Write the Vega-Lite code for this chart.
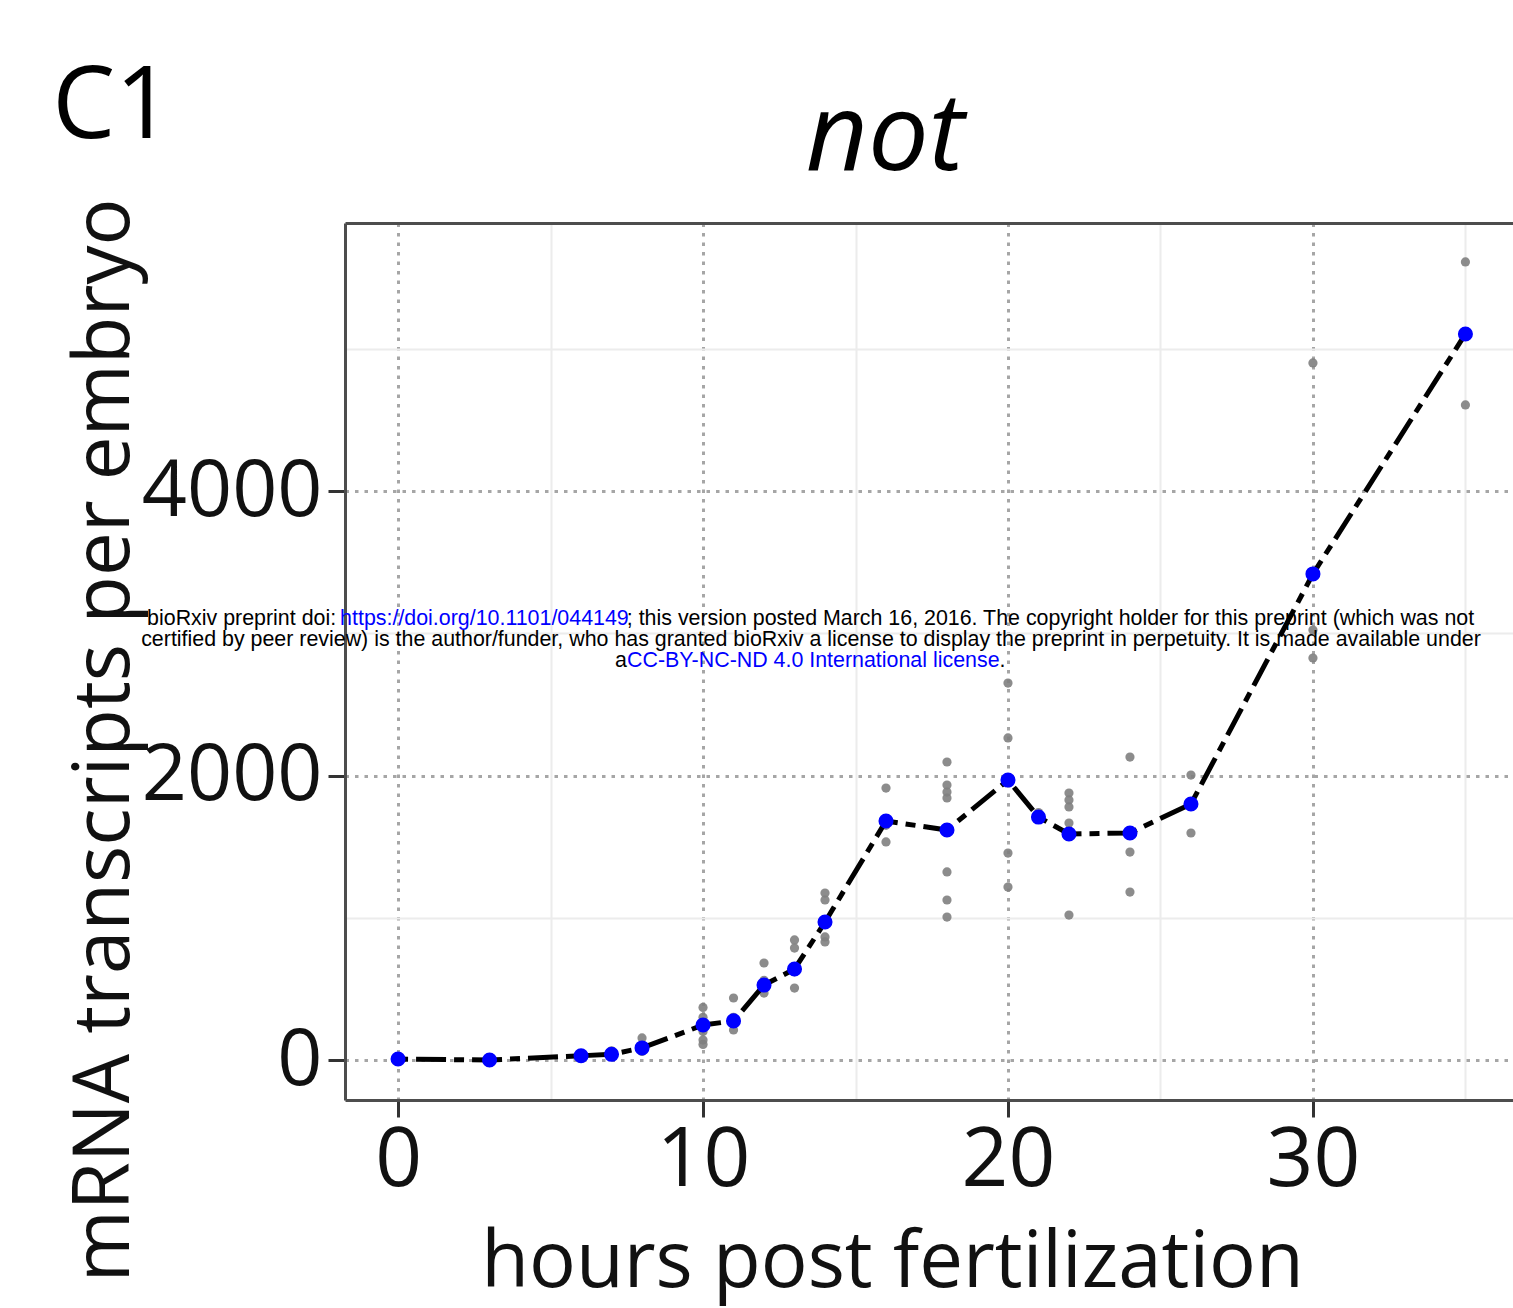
{
  "$schema": "https://vega.github.io/schema/vega-lite/v6.json",
  "width": 1168,
  "height": 877,
  "autosize": {"type": "none"},
  "padding": {"left": 345, "top": 223, "right": 0, "bottom": 208},
  "background": "white",
  "config": {"view": {"stroke": null}, "font": "Open Sans"},
  "datasets": {
    "reps": [
      {"hours": 0, "transcripts": 0}, {"hours": 0, "transcripts": 12},
      {"hours": 3, "transcripts": 0}, {"hours": 3, "transcripts": 8},
      {"hours": 6, "transcripts": 18}, {"hours": 6, "transcripts": 42},
      {"hours": 7, "transcripts": 30}, {"hours": 7, "transcripts": 65},
      {"hours": 8, "transcripts": 60}, {"hours": 8, "transcripts": 100}, {"hours": 8, "transcripts": 155},
      {"hours": 10, "transcripts": 370}, {"hours": 10, "transcripts": 300}, {"hours": 10, "transcripts": 200}, {"hours": 10, "transcripts": 140}, {"hours": 10, "transcripts": 110},
      {"hours": 11, "transcripts": 436}, {"hours": 11, "transcripts": 300}, {"hours": 11, "transcripts": 211},
      {"hours": 12, "transcripts": 682}, {"hours": 12, "transcripts": 560}, {"hours": 12, "transcripts": 471},
      {"hours": 13, "transcripts": 844}, {"hours": 13, "transcripts": 787}, {"hours": 13, "transcripts": 620}, {"hours": 13, "transcripts": 506},
      {"hours": 14, "transcripts": 1174}, {"hours": 14, "transcripts": 1125}, {"hours": 14, "transcripts": 980}, {"hours": 14, "transcripts": 865}, {"hours": 14, "transcripts": 830},
      {"hours": 16, "transcripts": 1912}, {"hours": 16, "transcripts": 1650}, {"hours": 16, "transcripts": 1533},
      {"hours": 18, "transcripts": 2095}, {"hours": 18, "transcripts": 1933}, {"hours": 18, "transcripts": 1884}, {"hours": 18, "transcripts": 1842}, {"hours": 18, "transcripts": 1617}, {"hours": 18, "transcripts": 1322}, {"hours": 18, "transcripts": 1125}, {"hours": 18, "transcripts": 1005},
      {"hours": 20, "transcripts": 2650}, {"hours": 20, "transcripts": 2264}, {"hours": 20, "transcripts": 1970}, {"hours": 20, "transcripts": 1455}, {"hours": 20, "transcripts": 1216},
      {"hours": 21, "transcripts": 1708}, {"hours": 21, "transcripts": 1740},
      {"hours": 22, "transcripts": 1877}, {"hours": 22, "transcripts": 1828}, {"hours": 22, "transcripts": 1779}, {"hours": 22, "transcripts": 1666}, {"hours": 22, "transcripts": 1019},
      {"hours": 24, "transcripts": 2130}, {"hours": 24, "transcripts": 1600}, {"hours": 24, "transcripts": 1462}, {"hours": 24, "transcripts": 1181},
      {"hours": 26, "transcripts": 2003}, {"hours": 26, "transcripts": 1596},
      {"hours": 30, "transcripts": 4900}, {"hours": 30, "transcripts": 3023}, {"hours": 30, "transcripts": 2826},
      {"hours": 35, "transcripts": 5610}, {"hours": 35, "transcripts": 4605}
    ],
    "means": [
      {"hours": 0, "transcripts": 7}, {"hours": 3, "transcripts": 0}, {"hours": 6, "transcripts": 30},
      {"hours": 7, "transcripts": 40}, {"hours": 8, "transcripts": 85}, {"hours": 10, "transcripts": 246},
      {"hours": 11, "transcripts": 275}, {"hours": 12, "transcripts": 527}, {"hours": 13, "transcripts": 640},
      {"hours": 14, "transcripts": 970}, {"hours": 16, "transcripts": 1680}, {"hours": 18, "transcripts": 1617},
      {"hours": 20, "transcripts": 1968}, {"hours": 21, "transcripts": 1708}, {"hours": 22, "transcripts": 1589},
      {"hours": 24, "transcripts": 1596}, {"hours": 26, "transcripts": 1800}, {"hours": 30, "transcripts": 3417},
      {"hours": 35, "transcripts": 5104}
    ]
  },
  "layer": [
    {
      "data": {"name": "reps"},
      "mark": {"type": "circle", "size": 85, "color": "#7f7f7f", "opacity": 0.9},
      "encoding": {
        "x": {"field": "hours", "type": "quantitative",
          "scale": {"domain": [-1.74, 36.56], "nice": false, "zero": false},
          "axis": {"orient": "bottom", "values": [5, 15, 25, 35], "grid": true, "gridColor": "#ececec", "gridWidth": 2, "labels": false, "ticks": false, "domain": false, "title": null}},
        "y": {"field": "transcripts", "type": "quantitative",
          "scale": {"domain": [-281, 5884], "nice": false, "zero": false},
          "axis": {"orient": "left", "values": [1000, 3000, 5000], "grid": true, "gridColor": "#ececec", "gridWidth": 2, "labels": false, "ticks": false, "domain": false, "title": null}}
      }
    },
    {
      "data": {"name": "means"},
      "mark": {"type": "line", "color": "#000000", "strokeWidth": 5, "strokeDash": [10, 8, 30, 8]},
      "encoding": {
        "x": {"field": "hours", "type": "quantitative",
          "axis": {"orient": "bottom", "values": [0, 10, 20, 30], "format": "d", "grid": true, "gridColor": "#a6a6a6", "gridDash": [3.5, 6], "gridWidth": 3,
            "domain": true, "domainColor": "#4d4d4d", "domainWidth": 3,
            "ticks": true, "tickColor": "#333333", "tickWidth": 3, "tickSize": 17,
            "labelFont": "Open Sans", "labelFontSize": 82, "labelColor": "#111111", "labelBaseline": "alphabetic", "labelPadding": 68, "labelFlush": false, "labelOverlap": false, "labelLimit": 0,
            "title": "hours post fertilization", "titleFont": "Open Sans", "titleFontSize": 78, "titleFontWeight": "normal", "titleColor": "#111111", "titleLimit": 0,
            "titleX": 547, "titleY": 186, "titleAlign": "center", "titleBaseline": "alphabetic"}},
        "y": {"field": "transcripts", "type": "quantitative",
          "axis": {"orient": "left", "values": [0, 2000, 4000], "format": "d", "grid": true, "gridColor": "#a6a6a6", "gridDash": [3.5, 6], "gridWidth": 3,
            "domain": true, "domainColor": "#4d4d4d", "domainWidth": 3,
            "ticks": true, "tickColor": "#333333", "tickWidth": 3, "tickSize": 17,
            "labelFont": "Open Sans", "labelFontSize": 79, "labelColor": "#111111", "labelBaseline": "middle", "labelPadding": 6, "labelFlush": false, "labelOverlap": false, "labelLimit": 0,
            "title": "mRNA transcripts per embryo", "titleFont": "Open Sans", "titleFontSize": 78, "titleFontWeight": "normal", "titleColor": "#111111", "titleLimit": 0,
            "titleAngle": 270, "titleX": -217, "titleY": 517, "titleAlign": "center", "titleBaseline": "alphabetic"}}
      }
    },
    {
      "data": {"name": "means"},
      "mark": {"type": "circle", "size": 227, "color": "#0000ff", "opacity": 1},
      "encoding": {
        "x": {"field": "hours", "type": "quantitative",
          "axis": {"orient": "top", "labels": false, "ticks": false, "grid": false, "domain": true, "domainColor": "#4d4d4d", "domainWidth": 3, "title": null}},
        "y": {"field": "transcripts", "type": "quantitative", "axis": null}
      }
    },
    {
      "data": {"values": [{}]},
      "mark": {"type": "text", "text": "C1", "font": "Open Sans", "fontSize": 100, "align": "left", "baseline": "alphabetic", "color": "#000000"},
      "encoding": {"x": {"datum": -11.34, "type": "quantitative", "axis": null}, "y": {"datum": 6482, "type": "quantitative", "axis": null}}
    },
    {
      "data": {"values": [{}]},
      "mark": {"type": "text", "text": "not", "font": "Open Sans", "fontSize": 108, "fontStyle": "italic", "align": "center", "baseline": "alphabetic", "color": "#000000"},
      "encoding": {"x": {"datum": 15.97, "type": "quantitative", "axis": null}, "y": {"datum": 6257, "type": "quantitative", "axis": null}}
    },
    {
      "data": {"values": [{}]},
      "mark": {"type": "text", "text": "bioRxiv preprint doi: ", "font": "Liberation Sans", "fontSize": 21.4, "align": "left", "baseline": "alphabetic", "color": "#000000"},
      "encoding": {"x": {"datum": -8.23, "type": "quantitative", "axis": null}, "y": {"datum": 3058, "type": "quantitative", "axis": null}}
    },
    {
      "data": {"values": [{}]},
      "mark": {"type": "text", "text": "https://doi.org/10.1101/044149", "font": "Liberation Sans", "fontSize": 21.4, "align": "left", "baseline": "alphabetic", "color": "#0000ff"},
      "encoding": {"x": {"datum": -1.9, "type": "quantitative", "axis": null}, "y": {"datum": 3058, "type": "quantitative", "axis": null}}
    },
    {
      "data": {"values": [{}]},
      "mark": {"type": "text", "text": "; this version posted March 16, 2016. The copyright holder for this preprint (which was not", "font": "Liberation Sans", "fontSize": 21.4, "align": "left", "baseline": "alphabetic", "color": "#000000"},
      "encoding": {"x": {"datum": 7.5, "type": "quantitative", "axis": null}, "y": {"datum": 3058, "type": "quantitative", "axis": null}}
    },
    {
      "data": {"values": [{}]},
      "mark": {"type": "text", "text": "certified by peer review) is the author/funder, who has granted bioRxiv a license to display the preprint in perpetuity. It is made available under", "font": "Liberation Sans", "fontSize": 21.4, "align": "center", "baseline": "alphabetic", "color": "#000000"},
      "encoding": {"x": {"datum": 13.54, "type": "quantitative", "axis": null}, "y": {"datum": 2910, "type": "quantitative", "axis": null}}
    },
    {
      "data": {"values": [{}]},
      "mark": {"type": "text", "text": "a", "font": "Liberation Sans", "fontSize": 21.4, "align": "left", "baseline": "alphabetic", "color": "#000000"},
      "encoding": {"x": {"datum": 7.115, "type": "quantitative", "axis": null}, "y": {"datum": 2765, "type": "quantitative", "axis": null}}
    },
    {
      "data": {"values": [{}]},
      "mark": {"type": "text", "text": "CC-BY-NC-ND 4.0 International license", "font": "Liberation Sans", "fontSize": 21.4, "align": "left", "baseline": "alphabetic", "color": "#0000ff"},
      "encoding": {"x": {"datum": 7.508, "type": "quantitative", "axis": null}, "y": {"datum": 2765, "type": "quantitative", "axis": null}}
    },
    {
      "data": {"values": [{}]},
      "mark": {"type": "text", "text": ".", "font": "Liberation Sans", "fontSize": 21.4, "align": "left", "baseline": "alphabetic", "color": "#000000"},
      "encoding": {"x": {"datum": 19.72, "type": "quantitative", "axis": null}, "y": {"datum": 2765, "type": "quantitative", "axis": null}}
    }
  ],
  "resolve": {"axis": {"x": "independent", "y": "independent"}}
}
